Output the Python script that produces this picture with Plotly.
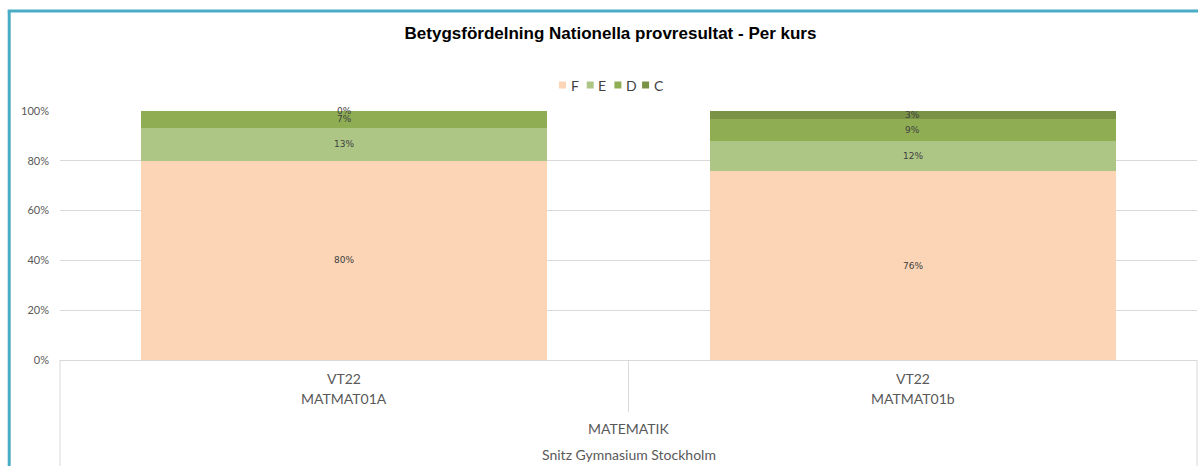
import plotly.graph_objects as go

# ---- data ----
periods = ["VT22", "VT22"]
courses = ["MATMAT01A", "MATMAT01b"]
subject = "MATEMATIK"
school = "Snitz Gymnasium Stockholm"
grades = ["F", "E", "D", "C"]
share_F = [0.8000, 0.7576]
share_E = [0.1333, 0.1212]
share_D = [0.0667, 0.0909]
share_C = [0.0000, 0.0303]
y_ticks = [0, 0.2, 0.4, 0.6, 0.8, 1.0]
title_text = "Betygsfördelning Nationella provresultat - Per kurs"

colors = {"F": "#FBD5B5", "E": "#ADC686", "D": "#8FAE54", "C": "#7A9245"}
series = {"F": share_F, "E": share_E, "D": share_D, "C": share_C}

# ---- layout geometry (page body margin removed via post_script) ----
W, H = 1198, 466
ML, MR, MT, MB = 60, 1, 111, 106
PW, PH = W - ML - MR, H - MT - MB


def px_x(px):  # pixel -> paper x
    return (px - ML) / PW


def px_y(py):  # pixel -> paper y
    return 1 - (py - MT) / PH


xpos = list(range(len(courses)))
label_font = dict(family="Lato, DejaVu Sans, sans-serif", size=14, color="#595959")

fig = go.Figure()
for g in grades:
    fig.add_trace(go.Bar(
        x=xpos, y=series[g], name=g,
        marker=dict(color=colors[g], line=dict(width=0)),
        width=0.715, hoverinfo="skip", showlegend=False,
    ))

annotations = []
shapes = []

# data labels at segment centres
cum = [0.0] * len(courses)
for g in grades:
    for i, v in enumerate(series[g]):
        annotations.append(dict(
            x=xpos[i], y=cum[i] + v / 2, xref="x", yref="y",
            text=f"{round(v * 100):.0f}%", showarrow=False,
            font=dict(family="DejaVu Sans, sans-serif", size=9, color="#404040"),
        ))
        cum[i] += v

# multi-level category labels
for i in xpos:
    annotations.append(dict(x=xpos[i], y=px_y(378), xref="x", yref="paper", text=periods[i],
                            showarrow=False, font=label_font, yanchor="middle"))
    annotations.append(dict(x=xpos[i], y=px_y(398), xref="x", yref="paper", text=courses[i],
                            showarrow=False, font=label_font, yanchor="middle"))
annotations.append(dict(x=0.5, y=px_y(428), xref="paper", yref="paper", text=subject,
                        showarrow=False, font=label_font, yanchor="middle"))
annotations.append(dict(x=0.5, y=px_y(454), xref="paper", yref="paper", text=school,
                        showarrow=False, font=label_font, yanchor="middle"))

# compact legend (keys + labels), Excel-style
leg_y = 85
for k, g in enumerate(grades):
    sx = 559 + 27.7 * k
    shapes.append(dict(type="rect", xref="paper", yref="paper",
                       x0=px_x(sx), x1=px_x(sx + 7), y0=px_y(leg_y + 3.5), y1=px_y(leg_y - 3.5),
                       fillcolor=colors[g], line=dict(width=0)))
    annotations.append(dict(x=px_x(sx + 9.5), y=px_y(leg_y), xref="paper", yref="paper",
                            text=g, showarrow=False, xanchor="left", yanchor="middle",
                            font=dict(family="Lato, DejaVu Sans, sans-serif", size=14,
                                      color="#404040")))

axis_line = dict(color="#D9D9D9", width=1)
shapes += [
    dict(type="line", xref="paper", yref="paper", x0=0, x1=0, y0=0, y1=-0.5, line=axis_line),
    dict(type="line", xref="paper", yref="paper", x0=1, x1=1, y0=0, y1=-0.5, line=axis_line),
    dict(type="line", xref="x", yref="paper", x0=0.5, x1=0.5, y0=0, y1=px_y(412), line=axis_line),
    # outer chart border (teal)
    dict(type="line", xref="paper", yref="paper", x0=px_x(9.2), x1=px_x(9.2), y0=-0.5, y1=px_y(11),
         line=dict(color="#4BACC6", width=3)),
    dict(type="line", xref="paper", yref="paper", x0=px_x(7.7), x1=1.1, y0=px_y(11), y1=px_y(11),
         line=dict(color="#4BACC6", width=3)),
]

fig.update_layout(
    barmode="stack",
    width=W, height=H,
    margin=dict(l=ML, r=MR, t=MT, b=MB, autoexpand=False),
    paper_bgcolor="white", plot_bgcolor="white",
    title=dict(text=f"<b>{title_text}</b>", x=610.5 / W, xref="container", xanchor="center",
               y=1 - 33 / H, yref="container", yanchor="middle",
               font=dict(family="Liberation Sans, Arial, sans-serif", size=17, color="#000000")),
    xaxis=dict(range=[-0.5, 1.5], showticklabels=False, showgrid=False, zeroline=False,
               showline=True, linecolor="#D9D9D9", linewidth=1, fixedrange=True,
               automargin=False),
    yaxis=dict(range=[0, 1], tickvals=y_ticks, tickformat=".0%", showgrid=True,
               gridcolor="#D9D9D9", gridwidth=1, zeroline=False, showline=False,
               ticklabelstandoff=10, fixedrange=True, automargin=False,
               tickfont=dict(family="Lato, DejaVu Sans, sans-serif", size=11, color="#595959")),
    annotations=annotations,
    shapes=shapes,
    showlegend=False,
)

fig.write_html(
    "out.html",
    config={"displayModeBar": False},
    post_script="document.body.style.margin='0';document.body.style.overflow='hidden';",
)
